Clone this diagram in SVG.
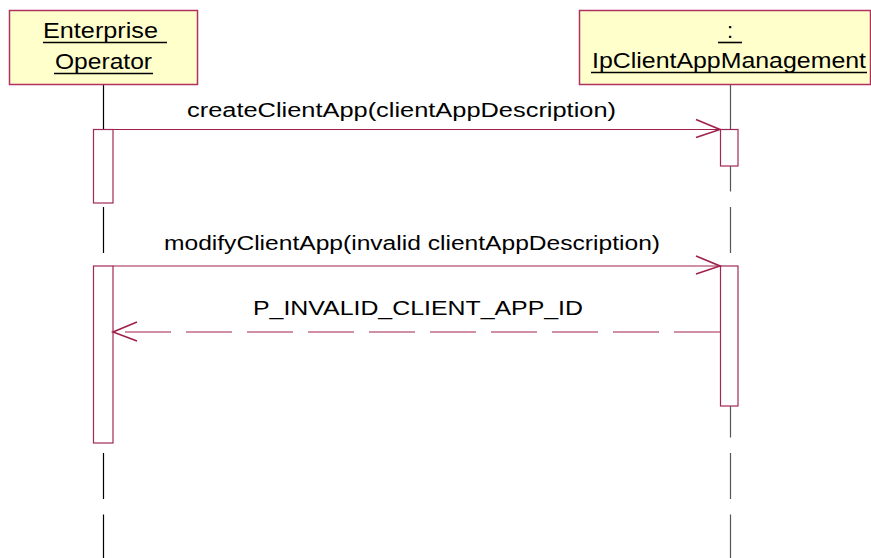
<svg xmlns="http://www.w3.org/2000/svg" width="871" height="558" viewBox="0 0 871 558">
<style>
.hdr{fill:#FFFFCC;stroke:#B03060;stroke-width:1.5}
.t{font-family:"Liberation Sans",Arial,sans-serif;fill:#000}
.h{font-size:22px}
.m{font-size:20px}
.ul{stroke:#000;stroke-width:1.6}
.life{stroke-width:1.2;stroke-dasharray:46 15.5;fill:none}
.act{fill:#fff;stroke:#A02858;stroke-width:1.2}
.msg{stroke:#A0204A;stroke-width:1.2;fill:none}
.ret{stroke:#A0204A;stroke-width:1.2;fill:none;stroke-dasharray:46 15}
.ah{stroke:#A0204A;stroke-width:1.6;fill:none}
</style>
<rect width="871" height="558" fill="#fff"/>
<g id="operator">
<line class="life" x1="103.5" y1="84" x2="103.5" y2="558" stroke="#000"/>
<rect class="hdr" x="9.5" y="10.5" width="188" height="74"/>
<text class="t h" x="43" y="38" textLength="115" lengthAdjust="spacingAndGlyphs">Enterprise</text>
<line class="ul" x1="43" y1="42.5" x2="167" y2="42.5"/>
<text class="t h" x="55" y="69" textLength="97" lengthAdjust="spacingAndGlyphs">Operator</text>
<line class="ul" x1="54" y1="73.5" x2="153" y2="73.5"/>
<rect class="act" x="93.5" y="129.5" width="19.5" height="73.5"/>
<rect class="act" x="93.5" y="266" width="19.5" height="177"/>
</g>
<g id="management">
<line class="life" x1="730.5" y1="84" x2="730.5" y2="558" stroke="#555"/>
<rect class="hdr" x="579.5" y="10.5" width="291" height="74"/>
<text class="t h" x="730" y="38" text-anchor="middle">:</text>
<line class="ul" x1="718" y1="42.5" x2="742" y2="42.5"/>
<text class="t h" x="592" y="68" textLength="274" lengthAdjust="spacingAndGlyphs">IpClientAppManagement</text>
<line class="ul" x1="591" y1="72.5" x2="867" y2="72.5"/>
<rect class="act" x="720.5" y="129.5" width="17.5" height="36.5"/>
<rect class="act" x="720.5" y="266" width="17.5" height="140"/>
</g>
<g id="connectors">
<line class="msg" x1="113" y1="129.5" x2="720" y2="129.5"/>
<polyline class="ah" points="696,119.5 720,129.5 696,137.5"/>
<text class="t m" x="187" y="117" textLength="429" lengthAdjust="spacingAndGlyphs">createClientApp(clientAppDescription)</text>
<line class="msg" x1="113" y1="266" x2="720" y2="266"/>
<polyline class="ah" points="696,256 720,266 696,274"/>
<text class="t m" x="164" y="250" textLength="496" lengthAdjust="spacingAndGlyphs">modifyClientApp(invalid clientAppDescription)</text>
<line class="ret" x1="720" y1="332" x2="113" y2="332"/>
<polyline class="ah" points="137,322 113,332 137,341"/>
<text class="t m" x="253" y="315" textLength="330" lengthAdjust="spacingAndGlyphs">P_INVALID_CLIENT_APP_ID</text>
</g>
</svg>
